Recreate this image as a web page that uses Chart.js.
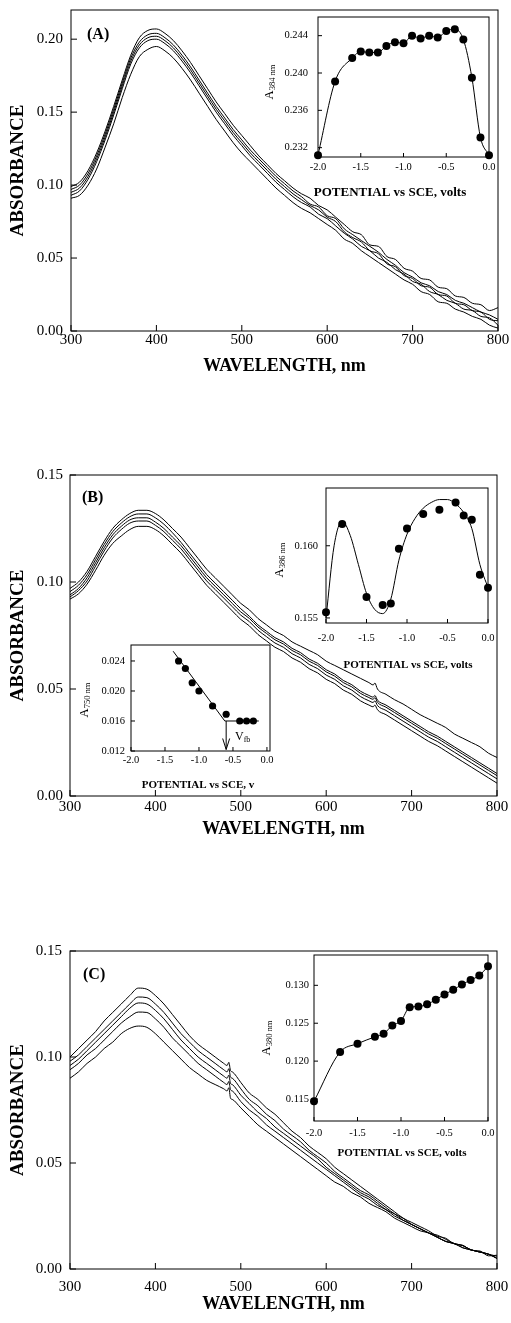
<!DOCTYPE html>
<html><head><meta charset="utf-8">
<script src="https://cdn.jsdelivr.net/npm/chart.js@4.4.1/dist/chart.umd.min.js"></script>
<style>
html,body{margin:0;padding:0;background:#fff;}
#wrap{position:relative;width:511px;height:1323px;overflow:hidden;background:#fff;}
canvas{position:absolute;}
</style></head><body>
<div id="wrap">
<canvas id="mainA" width="511" height="390" style="left:0;top:-10px"></canvas>
<canvas id="mainB" width="511" height="400" style="left:0;top:440px"></canvas>
<canvas id="mainC" width="520" height="403" style="left:0;top:920px"></canvas>
<canvas id="insA" width="261" height="210" style="left:250px;top:0"></canvas>
<canvas id="insB1" width="261" height="240" style="left:250px;top:460px"></canvas>
<canvas id="insB2" width="230" height="185" style="left:60px;top:620px"></canvas>
<canvas id="insC" width="261" height="250" style="left:250px;top:930px"></canvas>
</div>
<script>
// ---------------- DATA ----------------
const X_TICKS = [300,400,500,600,700,800];
const Y_TICKS_A = [0,0.05,0.10,0.15,0.20];
const Y_TICKS_BC = [0,0.05,0.10,0.15];
const POT_TICKS = [-2.0,-1.5,-1.0,-0.5,0.0];

const WL_A = [300,310,320,330,340,350,360,370,380,390,400,410,420,430,440,450,460,470,480,490,500,510,520,530,540,550,560,570,580,590,600,610,620,630,640,650,660,670,680,690,700,710,720,730,740,750,760,770,780,790,800];
const A1 = [.099,.102,.110,.122,.137,.154,.172,.189,.201,.206,.207,.204,.199,.192,.184,.175,.166,.157,.149,.141,.134,.127,.120,.114,.108,.103,.098,.094,.091,.086,.083,.078,.073,.068,.066,.059,.058,.051,.049,.043,.041,.036,.035,.030,.029,.024,.023,.019,.018,.014,.016];
const A2 = [.097,.100,.108,.120,.135,.152,.170,.187,.198,.203,.204,.201,.196,.189,.181,.172,.163,.154,.146,.138,.131,.124,.118,.112,.106,.101,.096,.092,.087,.085,.079,.077,.070,.066,.062,.058,.054,.049,.045,.040,.037,.033,.031,.027,.025,.021,.019,.016,.013,.011,.008];
const A3 = [.095,.098,.106,.118,.133,.150,.168,.185,.196,.201,.202,.199,.194,.187,.179,.170,.161,.152,.144,.136,.129,.122,.116,.110,.104,.099,.094,.090,.086,.083,.078,.075,.068,.064,.061,.055,.053,.046,.044,.038,.036,.031,.030,.025,.024,.019,.018,.014,.013,.008,.007];
const A4 = [.093,.096,.104,.116,.131,.148,.166,.183,.194,.199,.200,.197,.192,.185,.177,.168,.159,.150,.142,.134,.127,.120,.114,.108,.102,.097,.092,.088,.085,.080,.077,.072,.067,.063,.058,.055,.050,.047,.042,.039,.034,.032,.027,.025,.021,.019,.015,.014,.010,.009,.004];
const A5 = [.091,.093,.100,.111,.126,.142,.160,.176,.188,.193,.195,.192,.187,.180,.172,.163,.154,.145,.137,.129,.122,.116,.110,.104,.098,.093,.088,.084,.081,.077,.073,.069,.063,.060,.055,.051,.047,.043,.039,.035,.032,.027,.025,.020,.019,.015,.013,.010,.008,.004,.002];

const WL_B = [300,310,320,330,340,350,360,370,380,390,400,410,420,430,440,450,460,470,480,490,500,510,520,530,540,550,560,570,580,590,600,610,620,630,640,650,655,657,660,670,680,690,700,710,720,730,740,750,760,770,780,790,800];
const B1 = [.097,.100,.105,.112,.119,.125,.129,.132,.1335,.1335,.132,.129,.125,.121,.116,.111,.106,.102,.098,.094,.090,.087,.083,.080,.077,.075,.072,.070,.068,.066,.063,.061,.059,.057,.055,.053,.0519,.0528,.0500,.0475,.045,.043,.0405,.038,.036,.034,.032,.029,.027,.025,.023,.020,.018];
const B2 = [.0955,.0985,.1035,.1105,.1175,.1235,.1275,.1305,.1318,.1318,.130,.127,.123,.1185,.1135,.1085,.1035,.0995,.0955,.0915,.0875,.084,.080,.077,.074,.072,.069,.067,.064,.062,.059,.057,.054,.052,.049,.047,.0462,.0470,.0448,.0425,.040,.0375,.035,.0325,.030,.028,.0255,.023,.0205,.018,.0155,.013,.0105];
const B3 = [.094,.097,.102,.109,.116,.122,.126,.129,.130,.130,.128,.125,.121,.117,.112,.107,.102,.098,.094,.090,.086,.083,.079,.076,.073,.071,.068,.066,.063,.061,.058,.056,.053,.051,.048,.046,.0452,.0460,.0438,.0415,.039,.0365,.034,.0315,.029,.027,.0245,.022,.0195,.017,.0145,.012,.0095];
const B4 = [.093,.096,.1005,.1075,.1145,.1205,.1245,.1275,.1285,.1285,.1265,.1235,.1195,.1155,.1105,.1055,.1005,.0965,.0925,.0885,.0845,.0815,.0775,.0745,.0715,.0695,.0665,.0645,.0615,.0595,.0565,.0545,.0515,.0495,.0465,.0445,.0437,.0445,.0423,.040,.0375,.035,.0325,.030,.0275,.0255,.023,.0205,.018,.0155,.013,.0105,.008];
const B5 = [.092,.0945,.099,.1055,.1125,.118,.1215,.1245,.126,.126,.1245,.1215,.1175,.1135,.1085,.1035,.0985,.0945,.0905,.0865,.0825,.0795,.0755,.0725,.0695,.0675,.0645,.0625,.0595,.0575,.0545,.0525,.0495,.0475,.0445,.0425,.0417,.0425,.0403,.038,.0355,.033,.0305,.028,.0255,.0235,.021,.0185,.016,.0135,.011,.0085,.006];

const WL_C = [300,310,320,330,340,350,360,370,380,390,400,410,420,430,440,450,460,470,480,484,486,488,490,500,510,520,530,540,550,560,570,580,590,600,610,620,630,640,650,660,670,680,690,700,710,720,730,740,750,760,770,780,790,800];
const C1 = [.100,.104,.108,.112,.117,.121,.125,.129,.1325,.132,.129,.125,.120,.115,.110,.106,.103,.100,.097,.096,.0975,.0935,.093,.088,.083,.080,.076,.073,.069,.065,.062,.058,.055,.052,.048,.045,.042,.039,.036,.033,.030,.027,.024,.022,.020,.018,.0155,.0145,.0118,.0112,.0088,.0085,.0062,.0065];
const C2 = [.098,.101,.105,.109,.113,.117,.121,.125,.1283,.128,.125,.121,.116,.111,.107,.103,.100,.097,.094,.093,.0945,.0905,.090,.085,.080,.077,.073,.070,.066,.063,.060,.056,.053,.050,.046,.043,.040,.037,.035,.032,.029,.026,.024,.021,.019,.017,.016,.014,.012,.011,.009,.008,.007,.006];
const C3 = [.096,.099,.103,.107,.111,.115,.119,.123,.1255,.125,.122,.118,.113,.108,.104,.100,.097,.094,.091,.090,.0915,.0875,.087,.082,.078,.074,.071,.067,.064,.061,.058,.055,.052,.048,.045,.042,.039,.036,.034,.031,.028,.026,.023,.021,.019,.017,.015,.013,.012,.011,.009,.008,.007,.005];
const C4 = [.094,.097,.101,.104,.108,.112,.116,.119,.1212,.121,.118,.114,.109,.105,.101,.097,.094,.091,.088,.087,.0885,.0845,.084,.079,.075,.072,.068,.065,.062,.059,.056,.053,.050,.047,.044,.041,.038,.035,.033,.030,.028,.025,.023,.021,.019,.017,.015,.013,.012,.010,.009,.008,.007,.005];
const C5 = [.090,.093,.097,.100,.104,.107,.111,.1135,.1146,.114,.111,.107,.103,.099,.095,.092,.089,.087,.085,.084,.0855,.0805,.080,.076,.072,.068,.065,.062,.059,.056,.053,.050,.047,.044,.041,.039,.036,.034,.031,.029,.027,.024,.022,.020,.018,.017,.015,.013,.012,.010,.009,.008,.007,.005];

// insets
const POT_A = [-2.0,-1.8,-1.6,-1.5,-1.4,-1.3,-1.2,-1.1,-1.0,-0.9,-0.8,-0.7,-0.6,-0.5,-0.4,-0.3,-0.2,-0.1,0.0];
const ABS384 = [0.2312,0.2391,0.2416,0.2423,0.2422,0.2422,0.2429,0.2433,0.2432,0.2440,0.2437,0.2440,0.2438,0.2445,0.2447,0.2436,0.2395,0.2331,0.2312];
const Y_TICKS_INS_A = [0.232,0.236,0.240,0.244];

const POT_B1 = [-2.0,-1.8,-1.5,-1.3,-1.2,-1.1,-1.0,-0.8,-0.6,-0.4,-0.3,-0.2,-0.1,0.0];
const ABS386 = [0.1554,0.1615,0.15645,0.1559,0.1560,0.1598,0.1612,0.1622,0.1625,0.1630,0.1621,0.1618,0.1580,0.1571];
const FIT_B1_X = [-2.0,-1.9,-1.8,-1.7,-1.6,-1.5,-1.4,-1.3,-1.2,-1.1,-1.0,-0.9,-0.8,-0.7,-0.6,-0.5,-0.4,-0.3,-0.2,-0.1,0.0];
const FIT_B1_Y = [0.1550,0.1600,0.1617,0.1607,0.1587,0.1567,0.1556,0.1553,0.1563,0.1590,0.1608,0.1619,0.1626,0.1630,0.1632,0.1632,0.1629,0.1623,0.1612,0.1587,0.1571];
const Y_TICKS_INS_B1 = [0.155,0.160];

const POT_B2 = [-1.3,-1.2,-1.1,-1.0,-0.8,-0.6,-0.4,-0.3,-0.2];
const ABS750 = [0.0240,0.0230,0.0211,0.0200,0.0180,0.0169,0.0160,0.0160,0.0160];
const FIT_B2_X = [-1.38,-0.62];
const FIT_B2_Y = [0.0253,0.0160];
const FLAT_B2_X = [-0.62,-0.12];
const FLAT_B2_Y = [0.0160,0.0160];
const VFB_ARROW = {x:-0.6, y1:0.0160, y2:0.0122};
const Y_TICKS_INS_B2 = [0.012,0.016,0.020,0.024];

const POT_C = [-2.0,-1.7,-1.5,-1.3,-1.2,-1.1,-1.0,-0.9,-0.8,-0.7,-0.6,-0.5,-0.4,-0.3,-0.2,-0.1,0.0];
const ABS380 = [0.1147,0.1212,0.1223,0.1232,0.1236,0.1247,0.1253,0.1271,0.1272,0.1275,0.1281,0.1288,0.1294,0.1301,0.1307,0.1313,0.1325];
const Y_TICKS_INS_C = [0.115,0.120,0.125,0.130];

// ---------------- RENDER ----------------
const FF = "'Liberation Serif','Times New Roman',serif";
Chart.defaults.font.family = FF;
Chart.defaults.color = '#000';

function drawRich(ctx, t) {
  ctx.save();
  ctx.translate(t.x, t.y);
  if (t.rot) ctx.rotate(t.rot);
  ctx.textBaseline = 'middle';
  ctx.textAlign = 'left';
  ctx.fillStyle = '#000';
  let w = 0;
  t.parts.forEach(p => { ctx.font = p[1]; w += ctx.measureText(p[0]).width; });
  let cx = t.align === 'left' ? 0 : -w / 2;
  t.parts.forEach(p => { ctx.font = p[1]; ctx.fillText(p[0], cx, p[2] || 0); cx += ctx.measureText(p[0]).width; });
  ctx.restore();
}

const DECO = {};
const deco = {
  id: 'deco',
  afterDatasetsDraw(chart) {
    const d = DECO[chart.canvas.id] || {};
    const {ctx, chartArea: a} = chart;
    const x = chart.scales.x, y = chart.scales.y;
    ctx.save();
    ctx.strokeStyle = '#000';
    ctx.lineWidth = d.frame || 1;
    ctx.strokeRect(a.left, a.top, a.right - a.left, a.bottom - a.top);
    ctx.lineWidth = 1;
    const L = d.tick || 5;
    ctx.beginPath();
    x.ticks.forEach(t => { const p = x.getPixelForValue(t.value); ctx.moveTo(p, a.bottom); ctx.lineTo(p, a.bottom - L); });
    y.ticks.forEach(t => { const p = y.getPixelForValue(t.value); ctx.moveTo(a.left, p); ctx.lineTo(a.left + L, p); });
    ctx.stroke();
    if (d.arrow) {
      const px = x.getPixelForValue(d.arrow.x), p1 = y.getPixelForValue(d.arrow.y1), p2 = y.getPixelForValue(d.arrow.y2);
      ctx.beginPath();
      ctx.moveTo(px, p1); ctx.lineTo(px, p2);
      ctx.moveTo(px - 3.5, p2 - 11); ctx.lineTo(px, p2); ctx.lineTo(px + 3.5, p2 - 11);
      ctx.stroke();
    }
    (d.texts || []).forEach(t => drawRich(ctx, t));
    ctx.restore();
  }
};

function pts(xs, ys) { return xs.map((v, i) => ({x: v, y: ys[i]})); }

function mainChart(id, wl, series, yMax, yTicks, L) {
  const datasets = series.map(s => ({
    data: pts(wl, s), borderColor: '#000', borderWidth: 1, pointRadius: 0,
    cubicInterpolationMode: 'monotone', fill: false
  }));
  return new Chart(document.getElementById(id), {
    type: 'line', data: {datasets}, plugins: [deco],
    options: {
      responsive: false, animation: false, devicePixelRatio: 1, events: [],
      layout: {padding: L.pad},
      plugins: {legend: {display: false}, tooltip: {enabled: false}},
      scales: {
        x: {type: 'linear', min: 300, max: 800,
          afterBuildTicks: s => { s.ticks = X_TICKS.map(v => ({value: v})); },
          afterFit: s => { s.height = L.xh; },
          grid: {display: false, drawTicks: false}, border: {display: false},
          ticks: {padding: L.xp, font: {size: 15}, maxRotation: 0, minRotation: 0, autoSkip: false, callback: v => String(v)},
          title: {display: true, text: 'WAVELENGTH, nm', font: {size: 18, weight: 'bold'}, padding: {top: 0, bottom: L.tp}}},
        y: {type: 'linear', min: 0, max: yMax,
          afterBuildTicks: s => { s.ticks = yTicks.map(v => ({value: v})); },
          afterFit: s => { s.width = L.yw; },
          grid: {display: false, drawTicks: false}, border: {display: false},
          ticks: {padding: L.yp, font: {size: 15}, autoSkip: false, callback: v => v.toFixed(2)},
          title: {display: true, text: 'ABSORBANCE', font: {size: 19, weight: 'bold'}, padding: {top: 7, bottom: 0}}}
      }
    }
  });
}

function insetChart(id, datasets, c) {
  return new Chart(document.getElementById(id), {
    type: 'line', data: {datasets}, plugins: [deco],
    options: {
      responsive: false, animation: false, devicePixelRatio: 1, events: [],
      layout: {padding: c.pad},
      plugins: {legend: {display: false}, tooltip: {enabled: false}},
      scales: {
        x: {type: 'linear', min: -2.0, max: c.xMax,
          afterBuildTicks: s => { s.ticks = POT_TICKS.map(v => ({value: v})); },
          afterFit: s => { s.height = c.xh; },
          grid: {display: false, drawTicks: false}, border: {display: false},
          ticks: {padding: c.xp, font: {size: 10.5}, maxRotation: 0, minRotation: 0, autoSkip: false, callback: v => v.toFixed(1)}},
        y: {type: 'linear', min: c.yMin, max: c.yMax,
          afterBuildTicks: s => { s.ticks = c.yTicks.map(v => ({value: v})); },
          afterFit: s => { s.width = c.yw; },
          grid: {display: false, drawTicks: false}, border: {display: false},
          ticks: {padding: c.yp, font: {size: 10.5}, autoSkip: false, callback: v => v.toFixed(3)}}
      }
    }
  });
}

function dotSet(xs, ys, showLine, r) {
  return {data: pts(xs, ys), showLine: showLine, borderColor: '#000', borderWidth: 1,
    pointRadius: r || 4, pointBackgroundColor: '#000', pointBorderColor: '#000', pointBorderWidth: 0,
    cubicInterpolationMode: 'monotone', clip: false, fill: false};
}
function lineSet(xs, ys) {
  return {data: pts(xs, ys), showLine: true, borderColor: '#000', borderWidth: 1, pointRadius: 0,
    cubicInterpolationMode: 'monotone', clip: false, fill: false};
}

const fB = s => "bold " + s + "px 'Liberation Serif'";
const fN = s => s + "px 'Liberation Serif'";
const ylab = (x, y, sub) => ({x, y, rot: -Math.PI / 2, parts: [['A', fN(12.5), 0], [sub, fN(8.5), 3]]});

DECO.mainA = {tick: 6, texts: [{x: 87, y: 45, align: 'left', parts: [['(A)', fB(16), 0]]}]};
DECO.mainB = {tick: 6, texts: [{x: 82, y: 58, align: 'left', parts: [['(B)', fB(16), 0]]}]};
DECO.mainC = {tick: 6, texts: [{x: 83, y: 55, align: 'left', parts: [['(C)', fB(16), 0]]}]};
DECO.insA = {tick: 4, texts: [ylab(20, 82, '384 nm'), {x: 140, y: 193, parts: [['POTENTIAL vs SCE, volts', fB(13), 0]]}]};
DECO.insB1 = {tick: 4, texts: [ylab(30, 100, '386 nm'), {x: 158, y: 205, parts: [['POTENTIAL vs SCE, volts', fB(11), 0]]}]};
DECO.insB2 = {tick: 4, arrow: VFB_ARROW, texts: [ylab(25, 80, '750 nm'), {x: 138, y: 165, parts: [['POTENTIAL vs SCE, v', fB(11), 0]]},
  {x: 175, y: 117, align: 'left', parts: [['V', fN(12), 0], ['fb', fN(8), 3]]}]};
DECO.insC = {tick: 4, texts: [ylab(17, 108, '380 nm'), {x: 152, y: 223, parts: [['POTENTIAL vs SCE, volts', fB(11), 0]]}]};

mainChart('mainA', WL_A, [A1, A2, A3, A4, A5], 0.22, Y_TICKS_A,
  {pad: {top: 20, right: 13, bottom: 3, left: 0}, yw: 71, xh: 46, xp: 0, tp: 0, yp: 8});
mainChart('mainB', WL_B, [B1, B2, B3, B4, B5], 0.15, Y_TICKS_BC,
  {pad: {top: 35, right: 14, bottom: 0, left: 0}, yw: 70, xh: 44, xp: 2, tp: 0, yp: 7});
mainChart('mainC', WL_C, [C1, C2, C3, C4, C5], 0.15, Y_TICKS_BC,
  {pad: {top: 31, right: 23, bottom: 4, left: 0}, yw: 70, xh: 50, xp: 9, tp: 4, yp: 8});

insetChart('insA', [dotSet(POT_A, ABS384, true)],
  {pad: {top: 17, right: 22, bottom: 0, left: 0}, yw: 68, xh: 53, xp: 4, yp: 10, xMax: 0.0, yMin: 0.2310, yMax: 0.2460, yTicks: Y_TICKS_INS_A});
insetChart('insB1', [lineSet(FIT_B1_X, FIT_B1_Y), dotSet(POT_B1, ABS386, false)],
  {pad: {top: 28, right: 23, bottom: 0, left: 0}, yw: 76, xh: 77, xp: 9, yp: 8, xMax: 0.0, yMin: 0.15465, yMax: 0.1640, yTicks: Y_TICKS_INS_B1});
insetChart('insB2', [lineSet(FIT_B2_X, FIT_B2_Y), lineSet(FLAT_B2_X, FLAT_B2_Y), dotSet(POT_B2, ABS750, false, 3.6)],
  {pad: {top: 25, right: 20, bottom: 0, left: 0}, yw: 71, xh: 54, xp: 3, yp: 6, xMax: 0.045, yMin: 0.012, yMax: 0.02613, yTicks: Y_TICKS_INS_B2});
insetChart('insC', [dotSet(POT_C, ABS380, true)],
  {pad: {top: 25, right: 23, bottom: 0, left: 0}, yw: 64, xh: 59, xp: 6, yp: 5, xMax: 0.0, yMin: 0.1121, yMax: 0.1340, yTicks: Y_TICKS_INS_C});
</script>
</body></html>
